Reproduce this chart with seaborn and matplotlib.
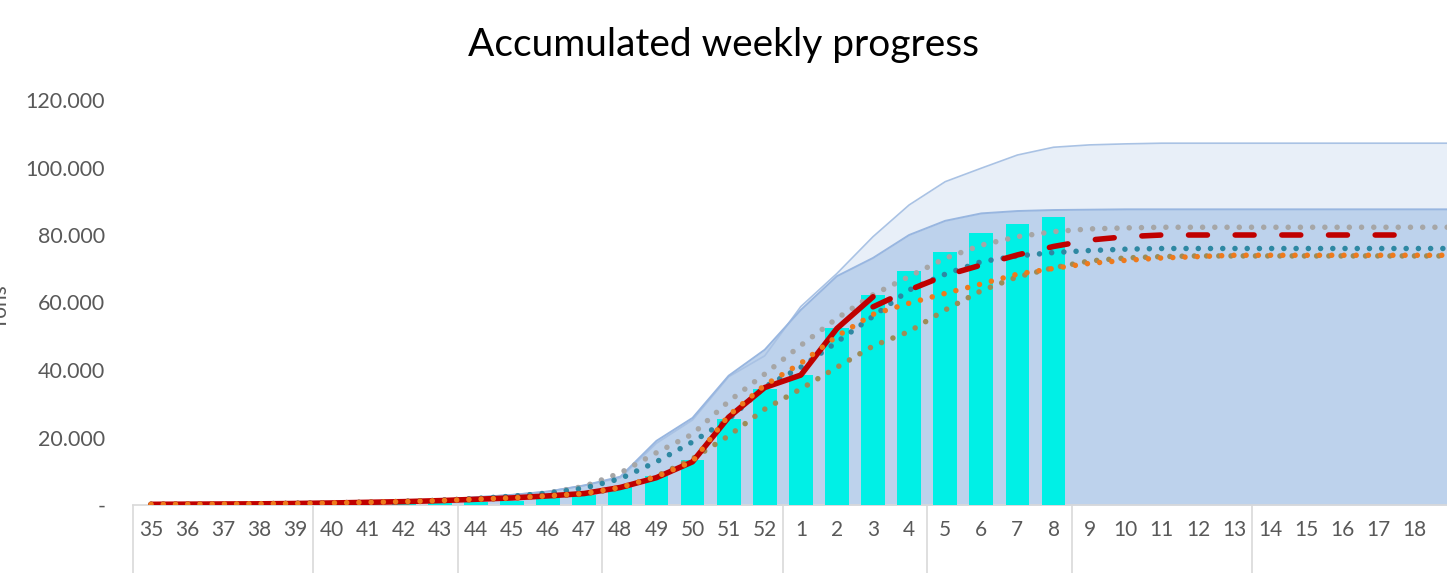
import numpy as np
import pandas as pd
import matplotlib
matplotlib.use("Agg")
import matplotlib.pyplot as plt
import matplotlib.transforms as mtransforms
import seaborn as sns

# ---------------- data ----------------
weeks = ["35", "36", "37", "38", "39", "40", "41", "42", "43", "44", "45", "46", "47",
         "48", "49", "50", "51", "52", "1", "2", "3", "4", "5", "6", "7", "8",
         "9", "10", "11", "12", "13", "14", "15", "16", "17", "18", "19"]

# weekly accumulated production (bars), weeks 35 .. 8
bars = [100, 150, 200, 250, 300, 400, 500, 600, 700, 1000, 1300, 2300, 3000,
        5200, 8500, 13400, 25400, 34400, 38400, 52400, 62200, 69300, 75000,
        80500, 83400, 85200]

# actual progress (red solid), weeks 35 .. 3
actual = [200, 250, 300, 350, 450, 600, 800, 1000, 1300, 1700, 2100, 2700, 3400,
          5200, 8100, 12800, 26000, 34800, 38500, 52300, 61700]

# forecast (red dashed), weeks 3 .. 18
forecast = [58700, 63700, 68000, 71100, 74100, 76600, 78500, 79500, 80000,
            80000, 80000, 80000, 80000, 80000, 80000, 80000]

# scenario curves (dotted), weeks 35 .. 19
gray_s = [200, 250, 300, 400, 500, 650, 850, 1100, 1400, 1900, 2500, 3600, 5500,
          9500, 15500, 21000, 30700, 38800, 47300, 55300, 62300, 67700, 73100,
          77000, 79500, 81000, 81800, 82100, 82300, 82300, 82300, 82300, 82300,
          82300, 82300, 82300, 82300]
teal_s = [200, 250, 300, 380, 480, 620, 800, 1050, 1400, 1900, 2600, 3500, 5000,
          7800, 12800, 18700, 25400, 35000, 40800, 48300, 55900, 63700, 68400,
          72100, 73800, 74800, 75400, 75800, 76000, 76000, 76000, 76000, 76000,
          76000, 76000, 76000, 76000]
orange_s = [200, 250, 300, 350, 450, 600, 800, 1000, 1300, 1700, 2100, 2700, 3400,
            5200, 8400, 12900, 26500, 35500, 42000, 50000, 56500, 59800, 62700,
            65500, 68400, 70100, 71600, 72500, 73200, 73600, 74000, 74000, 74000,
            74000, 74000, 74000, 74000]
khaki_s = [150, 200, 250, 300, 400, 550, 700, 900, 1200, 1600, 2000, 2600, 3200,
           5000, 8500, 13700, 20500, 28400, 34400, 40800, 47100, 51400, 57800,
           63500, 67600, 70300, 72300, 73200, 73600, 73800, 73800, 73800, 73800,
           73800, 73800, 73800, 73800]

# capacity bands (areas), weeks 35 .. 19
band_mid = [250, 300, 350, 450, 550, 700, 900, 1150, 1500, 2300, 3000, 4000, 5800,
            8400, 19000, 25800, 38300, 46000, 57800, 67800, 73200, 80000, 84200,
            86400, 87100, 87400, 87500, 87600, 87600, 87600, 87600, 87600, 87600,
            87600, 87600, 87600, 87600]
band_max = [250, 300, 350, 450, 550, 700, 900, 1150, 1500, 2300, 3000, 4000, 5800,
            8000, 18300, 25200, 38000, 44200, 58800, 68600, 79500, 88900, 95800,
            99800, 103700, 106000, 106700, 107000, 107200, 107200, 107200, 107200,
            107200, 107200, 107200, 107200, 107200]

month_breaks = [-0.5, 4.5, 8.5, 12.5, 17.5, 21.5, 25.5, 30.5]
yticks = [0, 20000, 40000, 60000, 80000, 100000, 120000]

# ---------------- style ----------------
sns.set_theme(style="white")
plt.rcParams["font.family"] = ["Lato", "DejaVu Sans"]
plt.rcParams["lines.dash_capstyle"] = "round"
plt.rcParams["lines.solid_capstyle"] = "round"

W, H = 1447, 573
fig = plt.figure(figsize=(W / 100, H / 100), dpi=100)
ax = fig.add_axes([133 / W, (H - 505) / H, 1 - 133 / W, 405 / H])

pos = np.arange(len(weeks))
n_bar = len(bars)

# areas
ax.fill_between(pos, 0, band_max, color="#E8EFF8", lw=0, zorder=1)
ax.fill_between(pos, 0, band_mid, color="#BDD2EC", lw=0, zorder=2)
ax.plot(pos, band_max, color="#A9C2E4", lw=1.2, zorder=2.5)
ax.plot(pos, band_mid, color="#98B6E0", lw=1.4, zorder=2.6)

# bars
df_bar = pd.DataFrame({"x": pos[:n_bar], "y": bars})
sns.barplot(data=df_bar, x="x", y="y", native_scale=True, width=0.66,
            color="#00F0E6", saturation=1, errorbar=None, ax=ax, zorder=3,
            edgecolor="none", linewidth=0)

dot = (0, (0.001, 2.2))
def dline(vals, color, z):
    d = pd.DataFrame({"x": pos[:len(vals)], "y": vals})
    sns.lineplot(data=d, x="x", y="y", ax=ax, color=color, linewidth=4.0,
                 linestyle=dot, dash_capstyle="round", estimator=None,
                 sort=False, zorder=z)

dline(gray_s, "#A6A6A6", 4)
dline(teal_s, "#2E88A2", 4.1)
dline(khaki_s, "#9C8C57", 4.2)

d_act = pd.DataFrame({"x": pos[:len(actual)], "y": actual})
sns.lineplot(data=d_act, x="x", y="y", ax=ax, color="#C00000", linewidth=4.0,
             solid_capstyle="round", estimator=None, sort=False, zorder=5)
start = len(actual) - 1
d_fc = pd.DataFrame({"x": pos[start:start + len(forecast)], "y": forecast})
sns.lineplot(data=d_fc, x="x", y="y", ax=ax, color="#C00000", linewidth=4.0,
             linestyle=(0, (3.4, 5.0)), dash_capstyle="round",
             estimator=None, sort=False, zorder=5)

dline(orange_s, "#EE7A1C", 5.5)

# axes
ax.set_xlim(-0.5, 35.9)
ax.set_ylim(0, 120000)
ax.set_xticks(pos[:36])
ax.set_xticklabels(weeks[:36])
ax.set_yticks(yticks)
ax.set_yticklabels(["-" if v == 0 else f"{v:,}".replace(",", ".") for v in yticks])
ax.tick_params(axis="x", length=0, pad=11, labelsize=15, labelcolor="#595959")
ax.tick_params(axis="y", length=0, pad=20, labelsize=15.5, labelcolor="#595959")
ax.set_xlabel("")
ax.set_ylabel("")
for s in ["top", "right", "left"]:
    ax.spines[s].set_visible(False)
ax.spines["bottom"].set_color("#D9D9D9")
ax.spines["bottom"].set_linewidth(1.2)
ax.grid(False)

trans = mtransforms.blended_transform_factory(ax.transData, ax.transAxes)
for b in month_breaks:
    ax.plot([b, b], [0, -0.3], transform=trans, color="#D9D9D9", lw=1.2,
            clip_on=False, zorder=0)

fig.text(0.5, (H - 45) / H, "Accumulated weekly progress", ha="center",
         va="center", fontsize=28, color="#000000")
fig.text(11 / W, (H - 307) / H, "Tons", rotation=90, ha="right", va="center",
         fontsize=15, color="#595959")

fig.savefig("out.png", dpi=100)
